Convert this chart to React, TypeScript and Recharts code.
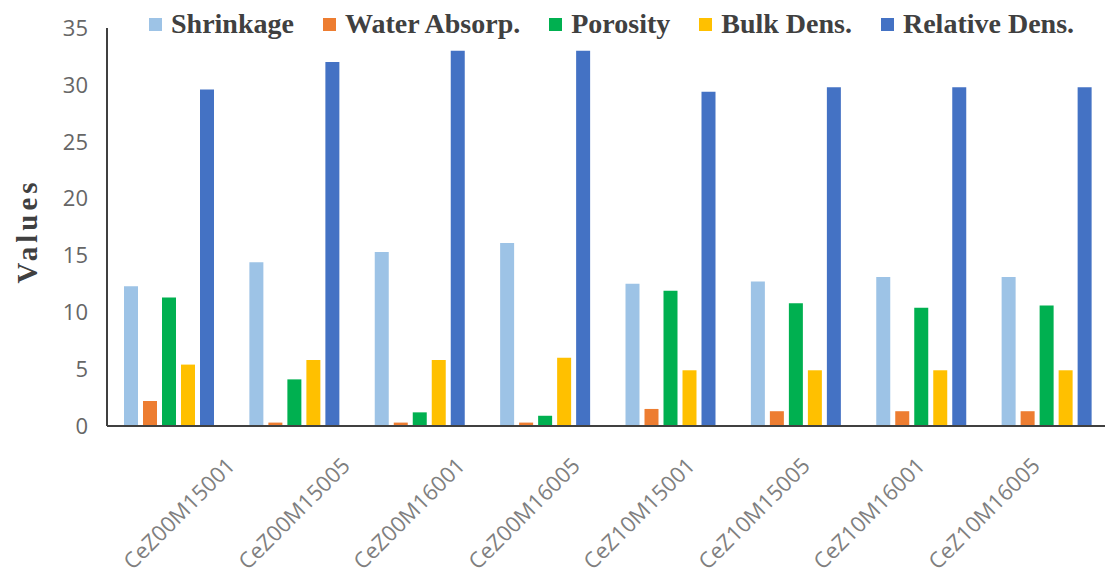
import React from "react";
import { BarChart, Bar, XAxis, YAxis, Legend, Label } from "recharts";

// sample names on the x axis
const categories = [
  "CeZ00M15001",
  "CeZ00M15005",
  "CeZ00M16001",
  "CeZ00M16005",
  "CeZ10M15001",
  "CeZ10M15005",
  "CeZ10M16001",
  "CeZ10M16005",
];

// values
const shrinkage = [12.3, 14.4, 15.3, 16.1, 12.5, 12.7, 13.1, 13.1];
const waterAbsorp = [2.2, 0.3, 0.3, 0.3, 1.5, 1.3, 1.3, 1.3];
const porosity = [11.3, 4.1, 1.2, 0.9, 11.9, 10.8, 10.4, 10.6];
const bulkDens = [5.4, 5.8, 5.8, 6.0, 4.9, 4.9, 4.9, 4.9];
const relativeDens = [29.6, 32.0, 33.0, 33.0, 29.4, 29.8, 29.8, 29.8];

const yTicks = [0, 5, 10, 15, 20, 25, 30, 35];

const series = [
  { key: "shrinkage", name: "Shrinkage", color: "#9DC3E6" },
  { key: "water", name: "Water Absorp.", color: "#ED7D31" },
  { key: "porosity", name: "Porosity", color: "#00B050" },
  { key: "bulk", name: "Bulk Dens.", color: "#FFC000" },
  { key: "relative", name: "Relative Dens.", color: "#4472C4" },
];

const data = categories.map((name, i) => ({
  name,
  shrinkage: shrinkage[i],
  water: waterAbsorp[i],
  porosity: porosity[i],
  bulk: bulkDens[i],
  relative: relativeDens[i],
}));

const serif = '"Liberation Serif", "Times New Roman", serif';
const sans = '"Open Sans", "Noto Sans", sans-serif';

// rotated sample names, sitting on their own (narrower) axis like the source
function SampleTick({ x, y, payload }: any) {
  return (
    <g transform={`translate(${x + 2},${y + 41})`}>
      <text
        textAnchor="end"
        transform="rotate(-45)"
        fill="#7f7f7f"
        fontSize={22}
        fontFamily={sans}
      >
        {payload.value}
      </text>
    </g>
  );
}

function LegendRow() {
  return (
    <div style={{ display: "flex", alignItems: "center", whiteSpace: "nowrap" }}>
      {series.map((s) => (
        <div key={s.key} style={{ display: "flex", alignItems: "center", marginRight: 29 }}>
          <span
            style={{ width: 13, height: 13, background: s.color, marginRight: 9, display: "inline-block" }}
          />
          <span
            style={{
              fontFamily: serif,
              fontWeight: 700,
              fontSize: 28,
              lineHeight: 1,
              color: "#404040",
            }}
          >
            {s.name}
          </span>
        </div>
      ))}
    </div>
  );
}

export default function App() {
  return (
    <div
      style={{
        position: "absolute",
        left: 0,
        top: 0,
        width: 1105,
        height: 579,
        overflow: "hidden",
        background: "#fff",
      }}
    >
      <BarChart
        width={1110}
        height={579}
        data={data}
        margin={{ top: 28, right: 0, left: 0, bottom: 20 }}
        barCategoryGap={17}
        barGap={5}
      >
        <XAxis xAxisId="bars" dataKey="name" hide height={0} />
        <XAxis
          xAxisId="labels"
          dataKey="name"
          height={133}
          padding={{ left: 70, right: 13 }}
          tickLine={false}
          tickSize={0}
          tickMargin={0}
          interval={0}
          axisLine={{ stroke: "#404040", strokeWidth: 2 }}
          tick={<SampleTick />}
        />
        <YAxis
          width={107}
          domain={[0, 35]}
          ticks={yTicks}
          interval={0}
          tickLine={false}
          tickSize={0}
          tickMargin={19}
          axisLine={{ stroke: "#404040", strokeWidth: 2 }}
          tick={{ fill: "#666666", fontSize: 22, fontFamily: sans }}
        >
          <Label
            content={({ viewBox }: any) => {
              const cx = viewBox.x + 27;
              const cy = viewBox.y + viewBox.height / 2 + 4;
              return (
                <text
                  x={cx}
                  y={cy}
                  transform={`rotate(-90 ${cx} ${cy})`}
                  textAnchor="middle"
                  dominantBaseline="central"
                  fill="#404040"
                  fontFamily={serif}
                  fontWeight={700}
                  fontSize={29}
                  letterSpacing={4}
                >
                  Values
                </text>
              );
            }}
          />
        </YAxis>
        <Legend
          layout="horizontal"
          verticalAlign="middle"
          align="center"
          wrapperStyle={{ top: 10, left: 149, width: "auto" }}
          content={() => <LegendRow />}
        />
        {series.map((s) => (
          <Bar
            key={s.key}
            xAxisId="bars"
            dataKey={s.key}
            name={s.name}
            fill={s.color}
            isAnimationActive={false}
          />
        ))}
      </BarChart>
    </div>
  );
}
